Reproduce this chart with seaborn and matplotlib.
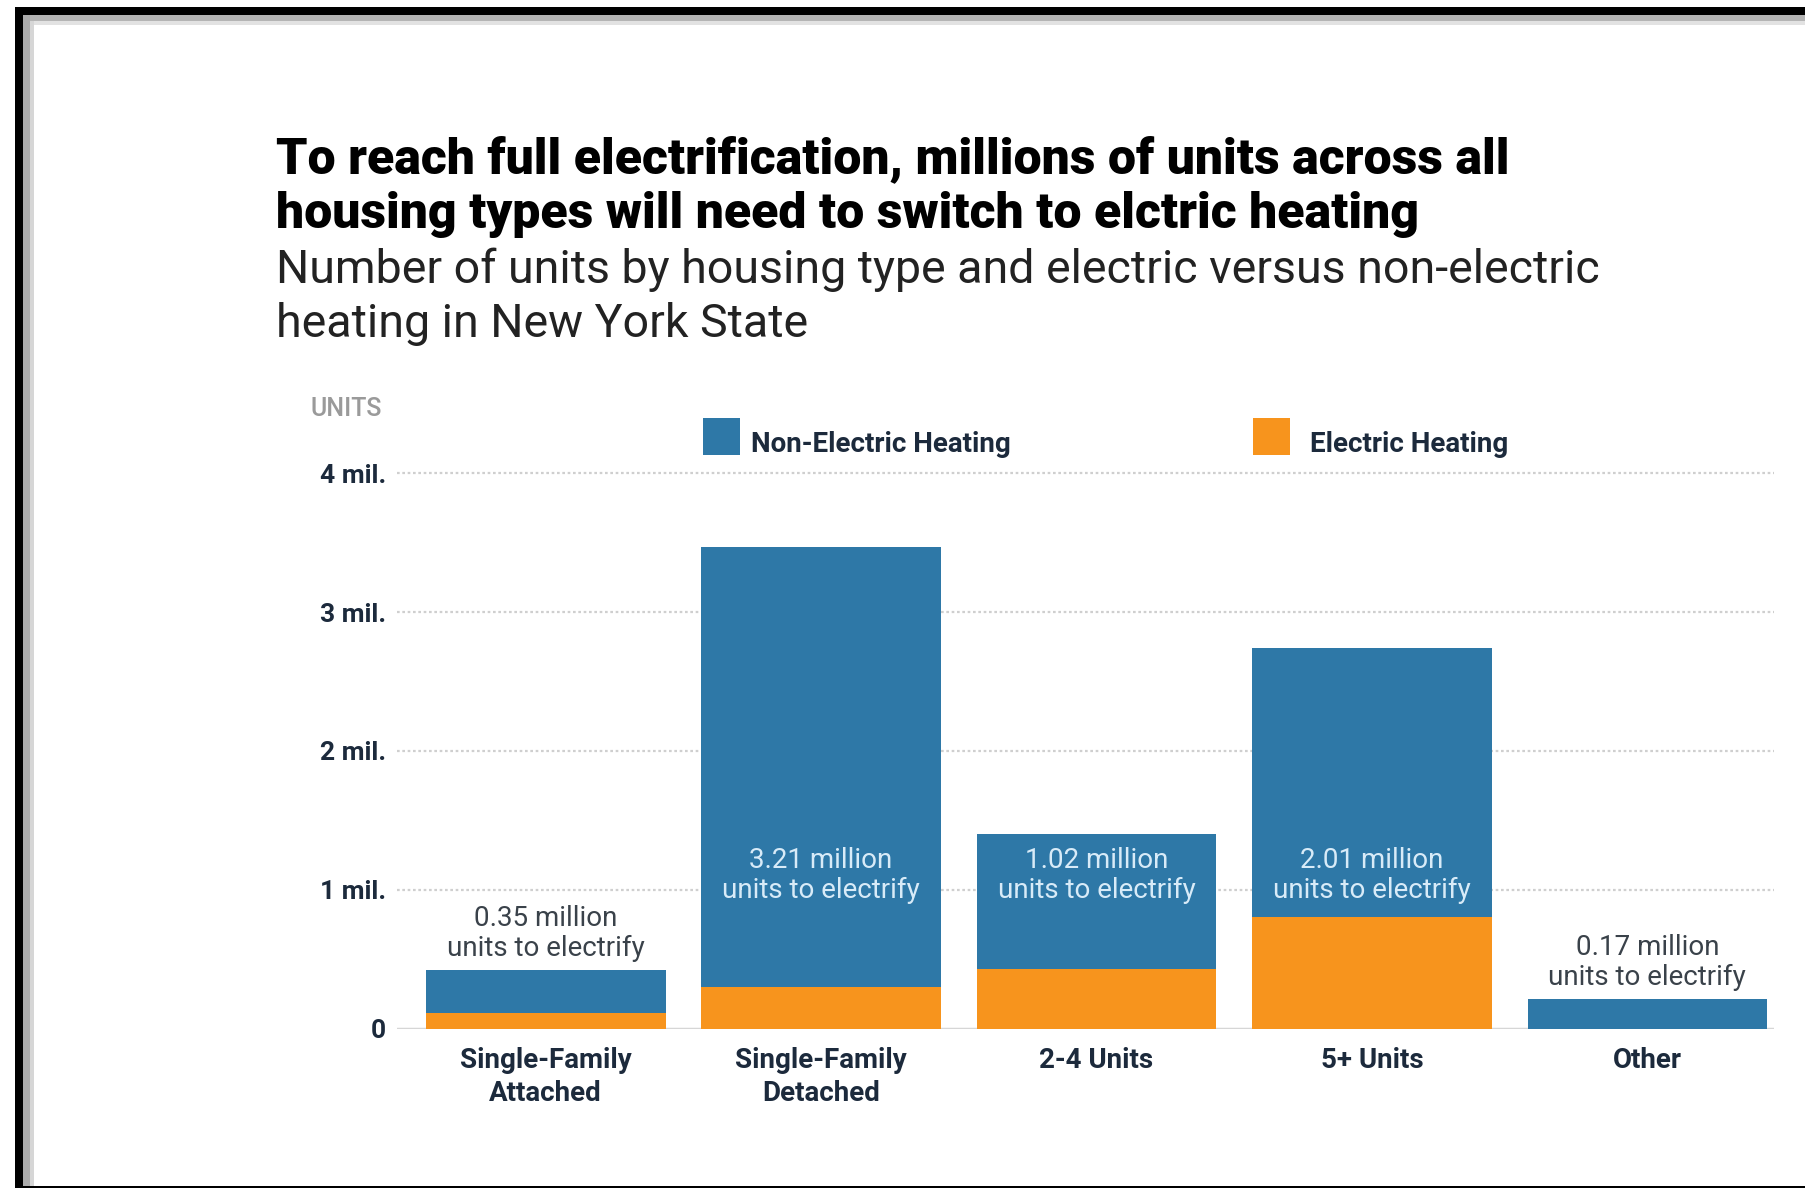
import matplotlib
matplotlib.use("Agg")
import matplotlib.pyplot as plt
import seaborn as sns
import pandas as pd
from matplotlib.patches import Rectangle

# ---------------- data ----------------
categories = ["Single-Family\nAttached", "Single-Family\nDetached", "2-4 Units", "5+ Units", "Other"]
non_electric = [0.31, 3.17, 0.97, 1.94, 0.21]   # million units (blue segment)
electric = [0.11, 0.30, 0.43, 0.80, 0.00]       # million units (orange segment)
to_electrify_labels = ["0.35", "3.21", "1.02", "2.01", "0.17"]
ytick_values = [0, 1, 2, 3, 4]
ytick_labels = ["0", "1 mil.", "2 mil.", "3 mil.", "4 mil."]
series_names = ["Non-Electric Heating", "Electric Heating"]
series_colors = ["#2e78a7", "#f7941d"]

title_lines = ["To reach full electrification, millions of units across all",
               "housing types will need to switch to elctric heating"]
subtitle_lines = ["Number of units by housing type and electric versus non-electric",
                  "heating in New York State"]

totals = [a + b for a, b in zip(non_electric, electric)]
df = pd.DataFrame({"category": categories, "total": totals, "electric": electric,
                   "non_electric": non_electric})

# ---------------- figure ----------------
sns.set_theme(style="white")
plt.rcParams["font.family"] = ["Roboto", "DejaVu Sans"]

W, H = 1806, 1188
fig = plt.figure(figsize=(W / 100, H / 100), dpi=100)
fig.patch.set_facecolor("white")

def fx(px):
    return px / W

def fy(py):
    return 1 - py / H

def band(x0, y0, x1, y1, color):
    fig.patches.append(Rectangle((fx(x0), fy(y1)), fx(x1 - x0), (y1 - y0) / H,
                                 transform=fig.transFigure, color=color, zorder=0, lw=0))

# frame decoration (black border with grey inner shadow)
band(15, 7, W, 15, "black")
band(23, 15, W, 21, "#b4b4b4")
band(23, 21, W, 25, "#e2e2e2")
band(15, 7, 23, H, "black")
band(23, 15, 30, H, "#ababab")
band(30, 21, 34, H, "#d6d6d6")
band(23, 1185.5, W, H, "black")

# axes placement
px_per_mil = 138.8
y0 = 1028.5
ymax = 4.3
ax_left, ax_right = 397, 1774
ax = fig.add_axes([fx(ax_left), fy(y0), fx(ax_right - ax_left), (ymax * px_per_mil) / H])
ax.set_facecolor("none")

sns.barplot(data=df, x="category", y="total", color=series_colors[0], width=0.87,
            saturation=1, ax=ax, zorder=3)
sns.barplot(data=df, x="category", y="electric", color=series_colors[1], width=0.87,
            saturation=1, ax=ax, zorder=4)
for p in ax.patches:
    p.set_edgecolor("none")

ax.set_ylim(0, ymax)
ax.set_xlim(-0.54, 4.46)
for s in ax.spines.values():
    s.set_visible(False)

# grid lines
for v in ytick_values[1:]:
    ax.axhline(v, color="#cfcfcf", lw=1.6, ls=(0, (1.2, 1.2)), zorder=1)
ax.axhline(0, color="#d6d6d6", lw=2.5, zorder=2)

ax.set_yticks(ytick_values)
ax.set_yticklabels(ytick_labels, fontsize=19, fontweight="bold", color="#1c2a3c")
ax.tick_params(axis="y", length=0, pad=8)
ax.tick_params(axis="x", length=0, pad=13)
ax.set_xticks(range(len(categories)))
ax.set_xticklabels(categories, fontsize=20, fontweight="bold", color="#1c2a3c",
                   linespacing=1.3)
ax.set_xlabel("")
ax.set_ylabel("")

# value annotations
for i, (ne, tot, lab) in enumerate(zip(non_electric, totals, to_electrify_labels)):
    txt = f"{lab} million\nunits to electrify"
    if ne > 0.9:
        ax.text(i, 1.105, txt, ha="center", va="center", fontsize=20, color="#d8ebf8",
                fontweight="normal", linespacing=1.15, zorder=6)
    else:
        ax.text(i, tot + 0.06, txt, ha="center", va="bottom", fontsize=20, color="#3a424a",
                fontweight="normal", linespacing=1.15, zorder=6)

# titles
for line, yb in zip(title_lines, [173, 228]):
    fig.text(fx(276), fy(yb), line, fontsize=36, fontweight="black",
             color="black", va="baseline", ha="left")
for line, yb in zip(subtitle_lines, [283, 337]):
    fig.text(fx(276), fy(yb), line, fontsize=33.5, fontweight="normal",
             color="#222222", va="baseline", ha="left")

# units label
fig.text(fx(311), fy(409), "UNITS", fontsize=18, color="#9a9a9a", va="center", ha="left",
         fontweight="medium")

# legend
legend_pos = [703, 1253]
text_offset = [48, 57]
for name, col, x, off in zip(series_names, series_colors, legend_pos, text_offset):
    fig.patches.append(Rectangle((fx(x), fy(455)), fx(37), (455 - 418) / H,
                                 transform=fig.transFigure, color=col, zorder=3, lw=0))
    fig.text(fx(x + off), fy(444), name, fontsize=20, fontweight="bold", color="#1c2a3c",
             va="center", ha="left")

fig.savefig("out.png", dpi=100, facecolor="white")
